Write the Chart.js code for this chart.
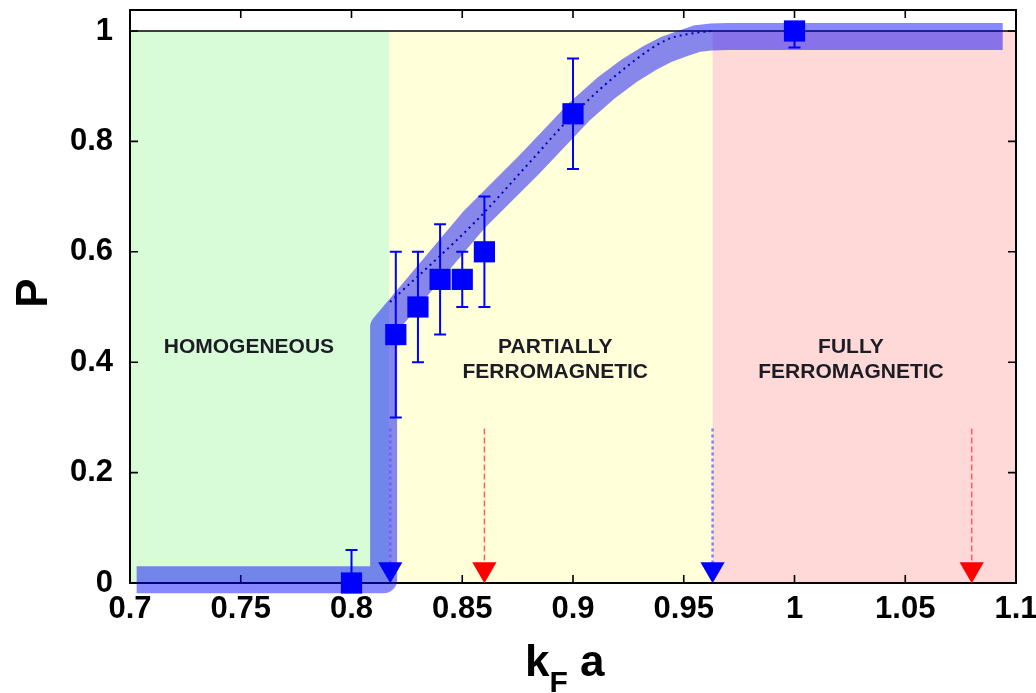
<!DOCTYPE html>
<html>
<head>
<meta charset="utf-8">
<script src="https://cdn.jsdelivr.net/npm/chart.js@4.4.1/dist/chart.umd.min.js"></script>
<style>
html,body{margin:0;padding:0;background:#fff;}
#wrap{width:1036px;height:693px;position:relative;}
</style>
</head>
<body>
<div id="wrap"><canvas id="c" width="1036" height="693"></canvas></div>
<script>
// ---------- data ----------
const xTicks = [0.7, 0.75, 0.8, 0.85, 0.9, 0.95, 1.0, 1.05, 1.1];
const yTicks = [0, 0.2, 0.4, 0.6, 0.8, 1.0];

const dataX   = [0.80, 0.82, 0.83, 0.84, 0.85, 0.86, 0.90, 1.00];
const dataP   = [0.00, 0.45, 0.50, 0.55, 0.55, 0.60, 0.85, 1.00];
const errLow  = [0.00, 0.30, 0.40, 0.45, 0.50, 0.50, 0.75, 0.97];
const errHigh = [0.06, 0.60, 0.60, 0.65, 0.60, 0.70, 0.95, 1.00];

const fitX = [0.8174, 0.8558, 0.88, 0.90, 0.9257, 0.9423, 0.956, 0.963];
const fitP = [0.509, 0.654, 0.76, 0.848, 0.94, 0.984, 0.997, 1.0];

const bandX = [0.703, 0.8145, 0.8145, 0.8553, 0.88, 0.9032, 0.915, 0.9257, 0.935, 0.9423, 0.95, 0.9558, 0.962, 0.97, 1.094];
const bandP = [0.006, 0.006, 0.464, 0.658, 0.757, 0.855, 0.897, 0.929, 0.952, 0.967, 0.978, 0.986, 0.989, 0.99, 0.99];

const unitLineX = [0.7, 1.1];
const unitLineP = [1, 1];

const regionEdges = [0.7, 0.817, 0.963, 1.1];
const regionNames = [["HOMOGENEOUS"], ["PARTIALLY", "FERROMAGNETIC"], ["FULLY", "FERROMAGNETIC"]];

const blueArrowX = [0.8175, 0.963];
const redArrowX  = [0.86, 1.08];
const arrowTopP = 0.28;
const arrowTipP = 0.025;

// ---------- styles ----------
const FONT = "'Liberation Sans', Arial, Helvetica, sans-serif";
const regionColors = ['#d8fcd8', '#ffffda', '#ffd8d8'];
const labelAnchors = [{x: 0.7537, y: 0.4265}, {x: 0.892, y: 0.4265}, {x: 1.0255, y: 0.4265}];
const fmt = v => String(Math.round(v * 100) / 100);

const pts = (xs, ys) => xs.map((v, i) => ({x: v, y: ys[i]}));

function arrowDataset(ax, lineColor, headColor, dash, width) {
  return {
    data: [{x: ax, y: arrowTopP}, {x: ax, y: arrowTipP}],
    showLine: true,
    borderColor: lineColor,
    borderWidth: width,
    borderDash: dash,
    pointRadius: [0, 14],
    pointStyle: 'triangle',
    rotation: 180,
    pointBackgroundColor: headColor,
    pointBorderColor: headColor,
    pointBorderWidth: 0,
    clip: false,
    order: 2
  };
}

const decor = {
  id: 'decor',
  beforeDatasetsDraw(chart) {
    const {ctx, chartArea: a, scales: {x, y}} = chart;
    ctx.save();
    const yTop = y.getPixelForValue(1), yBot = y.getPixelForValue(0);
    for (let i = 0; i < regionColors.length; i++) {
      const x0 = x.getPixelForValue(regionEdges[i]);
      const x1 = x.getPixelForValue(regionEdges[i + 1]);
      ctx.fillStyle = regionColors[i];
      ctx.fillRect(x0, yTop, x1 - x0, yBot - yTop);
    }
    // region labels
    ctx.fillStyle = '#1c1c24';
    ctx.font = 'bold 21px ' + FONT;
    ctx.textAlign = 'center';
    ctx.textBaseline = 'middle';
    regionNames.forEach((lines, i) => {
      const cx = x.getPixelForValue(labelAnchors[i].x);
      const cy = y.getPixelForValue(labelAnchors[i].y);
      lines.forEach((t, j) => ctx.fillText(t, cx, cy + j * 25));
    });
    // frame
    ctx.strokeStyle = '#000';
    ctx.lineWidth = 2;
    ctx.strokeRect(a.left, a.top, a.right - a.left, a.bottom - a.top);
    // inward ticks
    ctx.lineWidth = 1.6;
    ctx.beginPath();
    xTicks.forEach(v => {
      const px = x.getPixelForValue(v);
      ctx.moveTo(px, a.bottom); ctx.lineTo(px, a.bottom - 8);
      ctx.moveTo(px, a.top); ctx.lineTo(px, a.top + 8);
    });
    yTicks.forEach(v => {
      const py = y.getPixelForValue(v);
      ctx.moveTo(a.left, py); ctx.lineTo(a.left + 8, py);
      ctx.moveTo(a.right, py); ctx.lineTo(a.right - 8, py);
    });
    ctx.stroke();
    ctx.restore();
  },
  beforeDatasetDraw(chart, args) {
    if (args.index !== 0) return;
    const {ctx, scales: {x, y}} = chart;
    ctx.save();
    ctx.strokeStyle = '#0000ff';
    ctx.lineWidth = 2;
    ctx.beginPath();
    dataX.forEach((v, i) => {
      const px = x.getPixelForValue(v);
      const pl = y.getPixelForValue(errLow[i]);
      const ph = y.getPixelForValue(errHigh[i]);
      ctx.moveTo(px, pl); ctx.lineTo(px, ph);
      ctx.moveTo(px - 6, pl); ctx.lineTo(px + 6, pl);
      ctx.moveTo(px - 6, ph); ctx.lineTo(px + 6, ph);
    });
    ctx.stroke();
    ctx.restore();
  },
  afterDraw(chart) {
    const ctx = chart.ctx;
    ctx.save();
    ctx.fillStyle = '#000';
    // y title
    ctx.translate(47, 293);
    ctx.rotate(-Math.PI / 2);
    ctx.font = 'bold 44px ' + FONT;
    ctx.textAlign = 'center';
    ctx.textBaseline = 'alphabetic';
    ctx.fillText('P', 0, 0);
    ctx.restore();
    // x title: k_F a
    ctx.save();
    ctx.fillStyle = '#000';
    ctx.textAlign = 'left';
    ctx.textBaseline = 'alphabetic';
    ctx.font = 'bold 44px ' + FONT;
    let cx = 525;
    ctx.fillText('k', cx, 676);
    cx += ctx.measureText('k').width;
    ctx.font = 'bold 30px ' + FONT;
    ctx.fillText('F', cx, 692);
    cx += ctx.measureText('F').width;
    ctx.font = 'bold 44px ' + FONT;
    ctx.fillText(' a', cx, 676);
    ctx.restore();
  }
};

Chart.defaults.font.family = FONT;

new Chart(document.getElementById('c'), {
  type: 'scatter',
  data: {
    datasets: [
      {
        data: pts(dataX, dataP),
        pointStyle: 'rect',
        pointRadius: 15,
        backgroundColor: '#0000ff',
        borderColor: '#0000ff',
        borderWidth: 0,
        showLine: false,
        clip: false,
        order: 0
      },
      {
        data: pts(fitX, fitP),
        showLine: true,
        borderColor: '#0000b4',
        borderWidth: 2,
        borderDash: [2, 4],
        cubicInterpolationMode: 'monotone',
        pointRadius: 0,
        clip: false,
        order: 1
      },
      ...blueArrowX.map(v => arrowDataset(v, 'rgba(90,90,255,0.75)', '#0000ff', [3, 3], 2.5)),
      ...redArrowX.map(v => arrowDataset(v, 'rgba(255,70,70,0.85)', '#ff0000', [6, 3], 1.5)),
      {
        data: pts(bandX, bandP),
        showLine: true,
        borderColor: 'rgba(0,0,255,0.47)',
        borderWidth: 27,
        borderJoinStyle: 'round',
        borderCapStyle: 'butt',
        tension: 0,
        pointRadius: 0,
        clip: false,
        order: 3
      },
      {
        data: pts(unitLineX, unitLineP),
        showLine: true,
        borderColor: '#000',
        borderWidth: 1.5,
        pointRadius: 0,
        order: 4
      }
    ]
  },
  options: {
    responsive: false,
    animation: false,
    events: [],
    layout: {autoPadding: false, padding: {top: 10, right: 20, left: 0, bottom: 0}},
    plugins: {legend: {display: false}, tooltip: {enabled: false}},
    scales: {
      x: {
        type: 'linear', min: 0.7, max: 1.1,
        afterBuildTicks: s => { s.ticks = xTicks.map(v => ({value: v})); },
        afterFit: s => { s.height = 110; s.paddingLeft = 0; s.paddingRight = 0; },
        ticks: {callback: v => fmt(v), font: {size: 31, weight: 'bold'}, color: '#000', padding: 8, maxRotation: 0, autoSkip: false},
        grid: {display: false, drawTicks: false},
        border: {display: false}
      },
      y: {
        type: 'linear', min: 0, max: 1.038,
        afterBuildTicks: s => { s.ticks = yTicks.map(v => ({value: v})); },
        afterFit: s => { s.width = 130; s.paddingTop = 0; s.paddingBottom = 0; },
        ticks: {callback: v => fmt(v), font: {size: 31, weight: 'bold'}, color: '#000', padding: 17, autoSkip: false},
        grid: {display: false, drawTicks: false},
        border: {display: false}
      }
    }
  },
  plugins: [decor]
});
</script>
</body>
</html>
